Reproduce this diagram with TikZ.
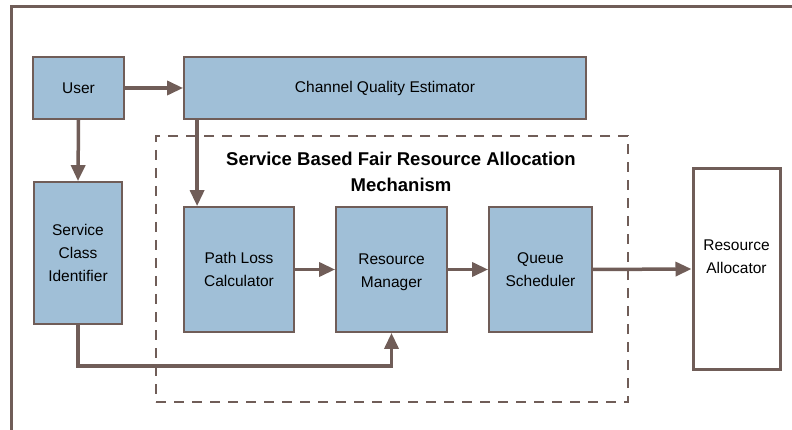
\documentclass[tikz,border=0pt]{standalone}
\usepackage{fontspec}
\setmainfont{Liberation Sans}
\usetikzlibrary{arrows.meta,calc}
\definecolor{boxfill}{RGB}{160,191,215}
\definecolor{edge}{RGB}{112,93,88}
\begin{document}
\begin{tikzpicture}[x=1pt,y=-1pt,
  blk/.style={draw=edge,fill=boxfill,line width=1.8pt,rectangle,inner sep=0pt,align=center,
    font=\fontsize{15.5}{23}\selectfont},
  lbl/.style={inner sep=0pt,align=center,font=\fontsize{15.5}{23}\selectfont},
  arr/.style={draw=edge,line width=3.5pt,-{Triangle[length=16pt,width=14pt]}},
]
\useasboundingbox (0,0) rectangle (792,430);
% outer frame
\draw[edge,line width=3pt] (11,432) -- (11,7) -- (794,7);
% dashed mechanism box
\node[draw=edge,line width=1.6pt,dash pattern=on 10pt off 8pt,minimum width=472pt,minimum height=266pt,inner sep=0pt] (mech) at (392,269) {};
\node[font=\bfseries\fontsize{18.5}{26}\selectfont,align=center] (title) at (401,172) {Service Based Fair Resource Allocation\\Mechanism};
% blocks
\node[blk,minimum width=91pt,minimum height=62pt] (user) at (78.5,88) {User};
\node[blk,minimum width=402pt,minimum height=62pt] (cqe) at (385,88) {Channel Quality Estimator};
\node[blk,minimum width=88pt,minimum height=142pt] (sci) at (78,253) {Service\\Class\\Identifier};
\node[blk,minimum width=110pt,minimum height=125pt] (plc) at (239,269.5) {Path Loss\\Calculator};
\node[blk,minimum width=111pt,minimum height=125pt] (rm) at (391.5,269.5) {};
\node[lbl] (rmtext) at ([yshift=-2.5pt]rm.center) {Resource\\Manager};
\node[blk,minimum width=103pt,minimum height=125pt] (qs) at (540.5,269.5) {Queue\\Scheduler};
\node[blk,fill=white,line width=3pt,minimum width=87pt,minimum height=200pt] (ra) at (736.5,269) {};
\node[lbl] (ratext) at ([yshift=12.5pt]ra.center) {Resource\\Allocator};
% connectors
\draw[arr] (user.east) -- (cqe.west);
\draw[arr] (user.south) -- (sci.north);
\draw[arr] ([xshift=14pt]plc.north west |- cqe.south) -- ([xshift=14pt]plc.north west);
\draw[arr] (plc.east) -- (rm.west);
\draw[arr] (rm.east) -- (qs.west);
\draw[arr] (qs.east) -- (ra.west);
\draw[arr] (sci.south) -- ++(0,41) -| (rm.south);
\end{tikzpicture}
\end{document}
